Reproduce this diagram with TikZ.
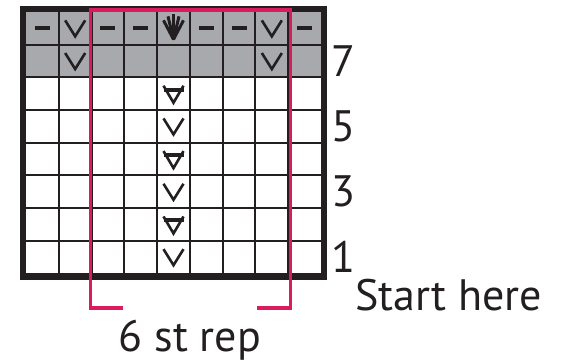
\documentclass[tikz,border=0pt]{standalone}
\usepackage{fontspec}
\setmainfont{PT Sans}
\definecolor{pinkrep}{RGB}{218,28,92}
\definecolor{chartgrey}{RGB}{167,169,172}
\definecolor{ink}{RGB}{35,31,32}
\tikzset{
  gridline/.style={draw=ink, line width=2pt},
  border/.style={draw=ink, line width=6.5pt},
  pinkline/.style={draw=pinkrep, line width=3.2pt},
  sym/.style={draw=ink, line width=2.6pt},
  lbl/.style={inner sep=0pt, text=ink, font=\fontsize{44}{44}\selectfont},
  pics/vsym/.style={code={\draw[sym] (-10,-8) -- (0,8) -- (10,-8);}},
  pics/dashsym/.style={code={\draw[draw=ink, line width=3.8pt] (-7.5,0) -- (7.5,0);}},
  pics/vbar/.style={code={\draw[sym] (-10,-8) -- (0,9) -- (10,-8);
      \draw[draw=ink, line width=4pt] (-10,-4) -- (10,-4);}},
  pics/fansym/.style={code={
      \fill[ink] (0,12) -- (-6.5,-1) -- (6.5,-1) -- cycle;
      \foreach \a/\b in {-10/-8,-5.5/-12,0/-14,5.5/-12,10/-8}
        \draw[draw=ink, line width=3pt] (0,11) -- (\a,\b);}}
}
\begin{document}
\begin{tikzpicture}[x=1pt,y=-1pt]
\useasboundingbox (0,0) rectangle (564,362);
\def\cw{32.778}
\def\ch{32.6875}
% grey top rows
\fill[chartgrey] (26,12) rectangle (321,{12+2*\ch});
% grid lines
\foreach \i in {1,...,8} \draw[gridline] ({26+\i*\cw},12) -- ({26+\i*\cw},273.5);
\foreach \j in {1,...,7} \draw[gridline] (26,{12+\j*\ch}) -- (321,{12+\j*\ch});
% outer border
\draw[border] (23,9) rectangle (324,276.5);
% symbols: column c, row r from top
\foreach \c in {1,3,4,6,7,9}
  \pic at ({26+(\c-0.5)*\cw},{12+0.5*\ch}) {dashsym};
\foreach \c/\r in {2/1,8/1,2/2,8/2,5/4,5/6,5/8}
  \pic at ({26+(\c-0.5)*\cw},{12+(\r-0.5)*\ch}) {vsym};
\foreach \r in {3,5,7}
  \pic at ({26+4.5*\cw},{12+(\r-0.5)*\ch}) {vbar};
\pic at ({26+4.5*\cw},{12+0.5*\ch}) {fansym};
% repeat bracket
\draw[pinkline] (123,308) -- (90.5,308) -- (90.5,10) -- (290.5,10) -- (290.5,308) -- (257,308);
% row labels
\node[lbl, anchor=west] (r7) at (331,{12+1.5*\ch}) {7};
\node[lbl, anchor=west] (r5) at (331,{12+3.5*\ch}) {5};
\node[lbl, anchor=west] (r3) at (331,{12+5.5*\ch}) {3};
\node[lbl, anchor=west] (r1) at (331,{12+7.5*\ch}) {1};
\node[lbl, anchor=base west] (start) at (355,310) {Start here};
\node[lbl, anchor=base] (rep) at (190,351) {6 st rep};
\end{tikzpicture}
\end{document}
